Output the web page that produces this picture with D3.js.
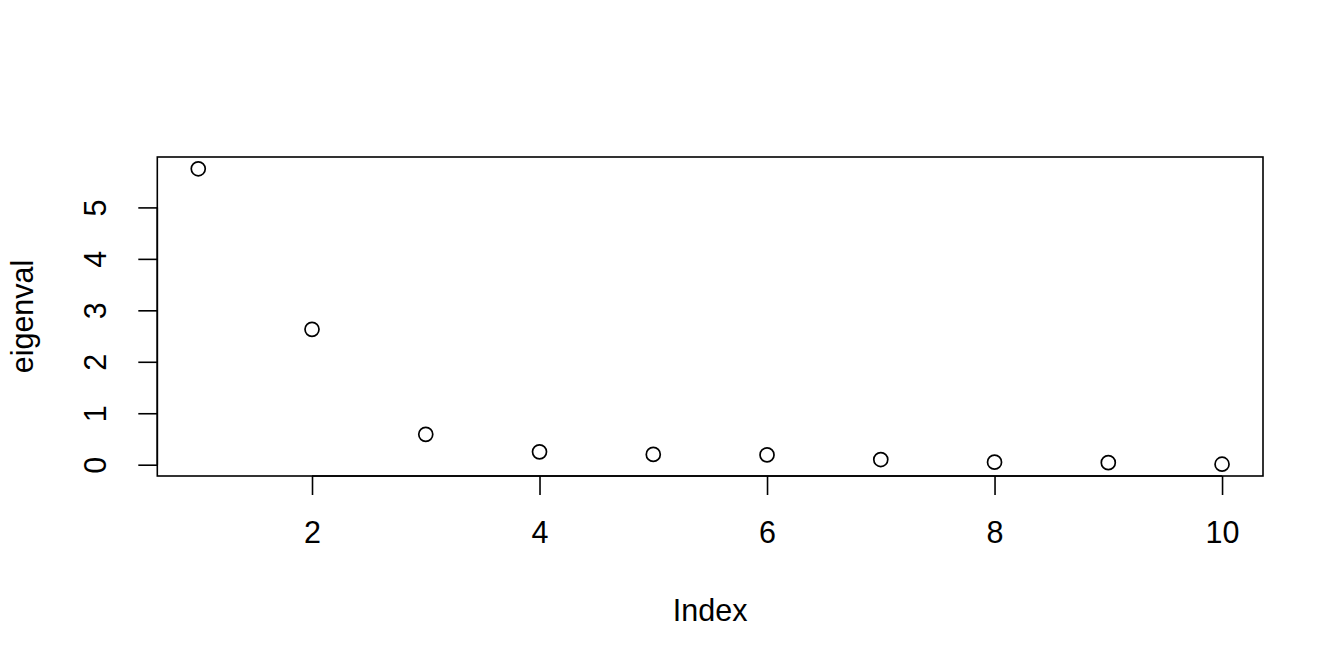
<!DOCTYPE html>
<html>
<head>
<meta charset="utf-8">
<script src="https://cdn.jsdelivr.net/npm/d3@7"></script>
<style>
  html, body { margin: 0; padding: 0; background: #fff; }
  svg text { font-family: "Liberation Sans", Arial, Helvetica, sans-serif; fill: #000; }
</style>
</head>
<body>
<svg id="chart" width="1344" height="672"></svg>
<script>
const indexValues = [1, 2, 3, 4, 5, 6, 7, 8, 9, 10];
const eigenval = [5.75, 2.63, 0.59, 0.25, 0.20, 0.19, 0.10, 0.05, 0.04, 0.01];
const xTicks = [2, 4, 6, 8, 10];
const yTicks = [0, 1, 2, 3, 4, 5];
const xLabel = "Index";
const yLabel = "eigenval";

const W = 1344, H = 672;
const plot = { left: 157.3, right: 1263, top: 157, bottom: 476 };

function rExtend(min, max) {
  const d = (max - min) * 0.04;
  return [min - d, max + d];
}

const x = d3.scaleLinear()
  .domain(rExtend(d3.min(indexValues), d3.max(indexValues)))
  .range([plot.left, plot.right]);
const y = d3.scaleLinear()
  .domain(rExtend(d3.min(eigenval), d3.max(eigenval)))
  .range([plot.bottom, plot.top]);

const svg = d3.select("#chart");
svg.append("rect").attr("width", W).attr("height", H).attr("fill", "#fff");

const fontSize = 30.5;

// box
svg.append("rect")
  .attr("x", plot.left).attr("y", plot.top)
  .attr("width", plot.right - plot.left).attr("height", plot.bottom - plot.top)
  .attr("fill", "none").attr("stroke", "#000").attr("stroke-width", 1.6);

// x axis
const xAxis = d3.axisBottom(x).tickValues(xTicks).tickFormat(d3.format("d"))
  .tickSize(19).tickPadding(26).tickSizeOuter(0);
const gx = svg.append("g").attr("transform", `translate(0,${plot.bottom})`).call(xAxis);
gx.select(".domain").attr("d", `M${x(xTicks[0])},0H${x(xTicks[xTicks.length-1])}`)
  .attr("stroke", "#000").attr("stroke-width", 1.6);
gx.selectAll(".tick line").attr("stroke", "#000").attr("stroke-width", 1.6);
gx.selectAll(".tick text").attr("font-size", fontSize).attr("font-family", null);

// y axis
const yAxis = d3.axisLeft(y).tickValues(yTicks).tickFormat(d3.format("d"))
  .tickSize(19).tickSizeOuter(0);
const gy = svg.append("g").attr("transform", `translate(${plot.left},0)`).call(yAxis);
gy.select(".domain").attr("d", `M0,${y(yTicks[0])}V${y(yTicks[yTicks.length-1])}`)
  .attr("stroke", "#000").attr("stroke-width", 1.6);
gy.selectAll(".tick line").attr("stroke", "#000").attr("stroke-width", 1.6);
gy.selectAll(".tick text")
  .attr("font-size", fontSize).attr("font-family", null)
  .attr("x", null).attr("dy", null)
  .attr("text-anchor", "middle")
  .attr("transform", "translate(-51,0) rotate(-90)");

// points
svg.append("g").selectAll("circle")
  .data(indexValues)
  .join("circle")
  .attr("cx", (d) => x(d))
  .attr("cy", (d, i) => y(eigenval[i]))
  .attr("r", 7)
  .attr("fill", "none")
  .attr("stroke", "#000")
  .attr("stroke-width", 1.7);

// axis titles
svg.append("text")
  .attr("x", (plot.left + plot.right) / 2).attr("y", 621)
  .attr("text-anchor", "middle").attr("font-size", fontSize)
  .text(xLabel);

svg.append("text")
  .attr("transform", `translate(33,${(plot.top + plot.bottom) / 2}) rotate(-90)`)
  .attr("text-anchor", "middle").attr("font-size", fontSize)
  .text(yLabel);
</script>
</body>
</html>
